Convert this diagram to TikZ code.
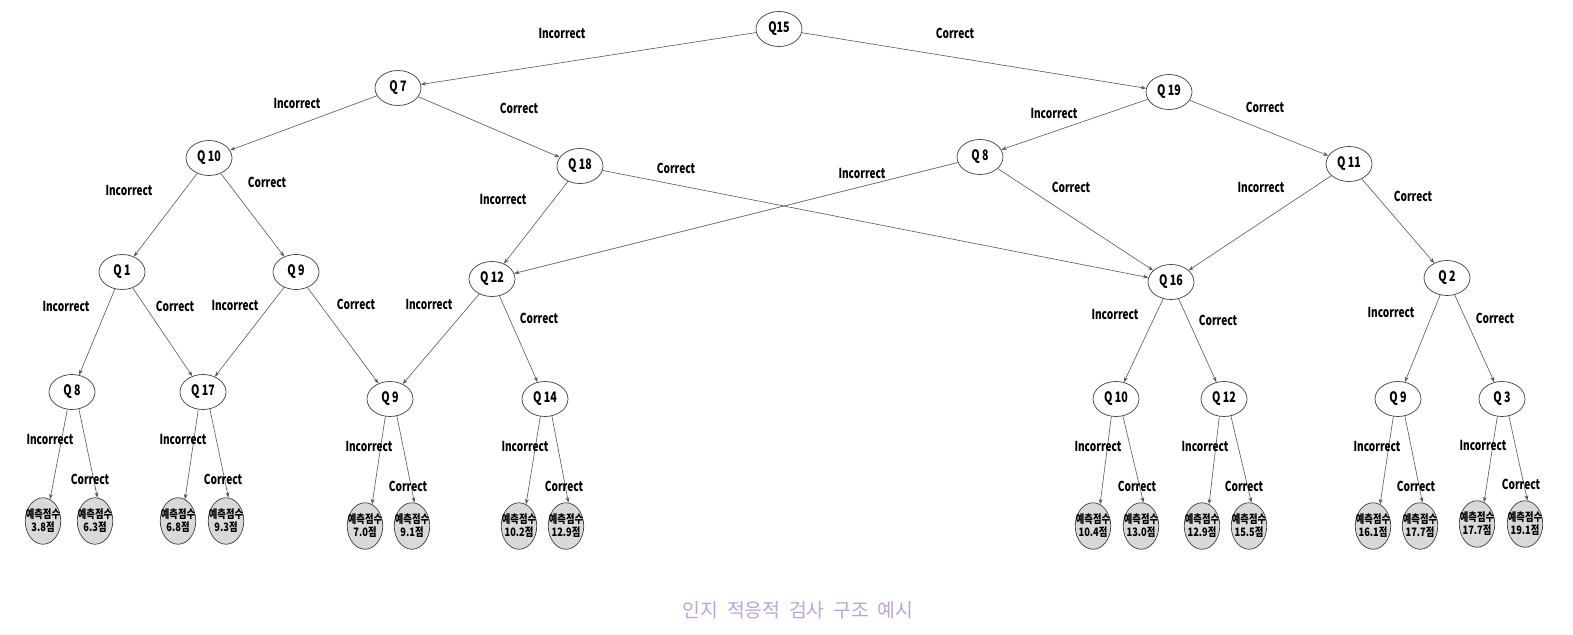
\documentclass[tikz,border=0pt]{standalone}
\usepackage{fontspec}
\usepackage{xcolor}
\usetikzlibrary{arrows.meta,shapes.geometric}

\newfontfamily\qfont{Noto Sans CJK KR}[FakeStretch=0.74]
\newfontfamily\leaffont{Noto Sans CJK KR}[FakeStretch=0.8]
\newfontfamily\capfont{Noto Sans CJK KR}

\definecolor{capcol}{HTML}{BFA3D6}
\definecolor{leafgray}{HTML}{D9D9D9}

\tikzset{
	qn/.style={draw=black!75, ellipse, inner sep=0pt, minimum width=0.92cm, minimum height=0.7cm, font=\qfont\bfseries\fontsize{8.2}{8.4}\selectfont},
	leaf/.style={draw=black!75, fill=leafgray, ellipse, inner xsep=-3pt, inner ysep=0pt, minimum width=0.71cm, minimum height=0.93cm, align=center, font=\leaffont\bfseries\fontsize{6.6}{7.4}\selectfont},
	lbl/.style={inner sep=0pt, font=\qfont\bfseries\fontsize{7.8}{8}\selectfont},
	ar/.style={draw=black!65, line width=0.35pt, -{Stealth[length=3pt,width=2.2pt]}}
}

\begin{document}
\begin{tikzpicture}[x=0.02cm, y=-0.02cm]
		\useasboundingbox (0,0) rectangle (1573,635);
		% question nodes
		\node[qn] (q15) at (779,29) {Q15};
		\node[qn] (q7) at (398,88) {Q 7};
		\node[qn] (q19) at (1169,92) {Q 19};
		\node[qn] (q10) at (209,158) {Q 10};
		\node[qn] (q18) at (580,166) {Q 18};
		\node[qn] (q8) at (980,157) {Q 8};
		\node[qn] (q11) at (1349,164) {Q 11};
		\node[qn] (q1) at (122,272) {Q 1};
		\node[qn] (q9) at (296,272) {Q 9};
		\node[qn] (q12) at (492,279) {Q 12};
		\node[qn] (q16) at (1171,282) {Q 16};
		\node[qn] (q2) at (1447,278) {Q 2};
		\node[qn] (q8b) at (72,392) {Q 8};
		\node[qn] (q17) at (203,392) {Q 17};
		\node[qn] (q9b) at (390,399) {Q 9};
		\node[qn] (q14) at (545,399) {Q 14};
		\node[qn] (q10b) at (1116,399) {Q 10};
		\node[qn] (q12b) at (1224,399) {Q 12};
		\node[qn] (q9c) at (1398,399) {Q 9};
		\node[qn] (q3) at (1502,399) {Q 3};
		% score leaves
		\foreach \x/\y/\s [count=\i] in {43/521/3.8, 95/521/6.3, 178/521/6.8, 226/521/9.3,
				365/526/7.0, 412/526/9.1, 519/526/10.2, 566/526/12.9,
				1093/526/10.4, 1141/526/13.0, 1202/526/12.9, 1249/526/15.5,
				1373/526/16.1, 1420/526/17.7, 1477/524/17.7, 1525/524/19.1}
			\node[leaf] (s\i) at (\x,\y) {예측점수\\\s{}점};
		% branches
		\foreach \a/\b in {q15/q7, q15/q19, q7/q10, q7/q18, q19/q8, q19/q11,
				q10/q1, q10/q9, q18/q12, q18/q16, q8/q12, q8/q16, q11/q16, q11/q2,
				q1/q8b, q1/q17, q9/q17, q9/q9b, q12/q9b, q12/q14,
				q16/q10b, q16/q12b, q2/q9c, q2/q3}
			\draw[ar] (\a) -- (\b);
		\foreach \a/\b/\c in {q8b/s1/s2, q17/s3/s4, q9b/s5/s6, q14/s7/s8,
				q10b/s9/s10, q12b/s11/s12, q9c/s13/s14, q3/s15/s16} {
			\draw[ar] (\a.-105) -- (\b.72);
			\draw[ar] (\a.-68) -- (\c.84);
		}
		% branch labels
		\foreach \x/\y/\t [count=\i] in {562/33/Incorrect, 955/33/Correct,
				297/103/Incorrect, 519/108/Correct, 1054/113/Incorrect, 1265/107/Correct,
				129/190/Incorrect, 267/182/Correct, 503/199/Incorrect, 676/168/Correct,
				862/173/Incorrect, 1071/187/Correct, 1261/187/Incorrect, 1413/196/Correct,
				66/306/Incorrect, 175/306/Correct, 235/305/Incorrect, 356/304/Correct,
				429/304/Incorrect, 539/318/Correct, 1115/314/Incorrect, 1218/320/Correct,
				1391/312/Incorrect, 1495/318/Correct,
				50/439/Incorrect, 90/479/Correct, 183/439/Incorrect, 223/479/Correct,
				369/446/Incorrect, 408/486/Correct, 525/446/Incorrect, 564/486/Correct,
				1098/446/Incorrect, 1137/486/Correct, 1205/446/Incorrect, 1244/486/Correct,
				1377/446/Incorrect, 1416/486/Correct, 1483/445/Incorrect, 1521/484/Correct}
			\node[lbl] (l\i) at (\x,\y) {\t};
		% caption
		\node[font=\capfont\fontsize{11}{13}\selectfont, text=capcol] (cap) at (798,610)
			{인지\hspace{0.45em}적응적\hspace{0.45em}검사\hspace{0.45em}구조\hspace{0.45em}예시};
	\end{tikzpicture}
\end{document}
